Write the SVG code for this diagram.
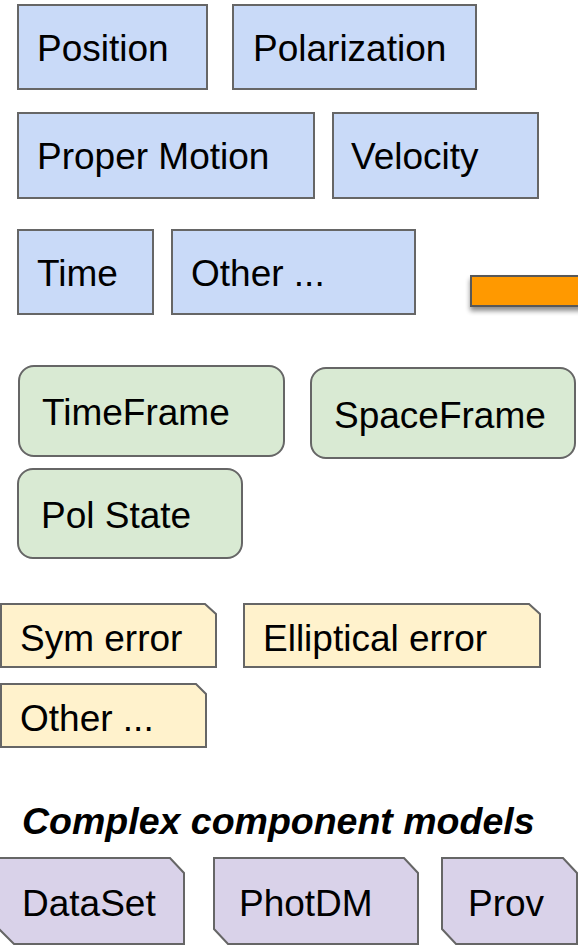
<svg xmlns="http://www.w3.org/2000/svg" width="578" height="952" viewBox="0 0 578 952">
<defs>
<style>
.t{font-family:"Liberation Sans",Arial,sans-serif;font-size:37px;fill:#000}
.b{fill:#c9daf8;stroke:#666;stroke-width:2}
.g{fill:#d9ead3;stroke:#666;stroke-width:2}
.y{fill:#fff2cc;stroke:#666;stroke-width:2}
.p{fill:#d9d2e9;stroke:#666;stroke-width:2}
.h{font-family:"Liberation Sans",Arial,sans-serif;font-size:37.5px;font-weight:bold;font-style:italic;fill:#000}
</style>
<filter id="sh" x="-20%" y="-50%" width="140%" height="220%">
<feGaussianBlur in="SourceAlpha" stdDeviation="2.5"/>
<feOffset dx="0" dy="4" result="o"/>
<feComponentTransfer><feFuncA type="linear" slope="0.45"/></feComponentTransfer>
<feMerge><feMergeNode/><feMergeNode in="SourceGraphic"/></feMerge>
</filter>
</defs>
<rect width="578" height="952" fill="#fff"/>
<g id="connectors">
<rect x="471" y="276" width="120" height="30" fill="#ff9900" stroke="#595959" stroke-width="2" filter="url(#sh)"/>
</g>
<g id="position"><rect class="b" x="18" y="5" width="189" height="84"/><text class="t" x="37" y="61">Position</text></g>
<g id="polarization"><rect class="b" x="233" y="5" width="243" height="84"/><text class="t" x="253" y="61">Polarization</text></g>
<g id="proper-motion"><rect class="b" x="18" y="113" width="296" height="85"/><text class="t" x="37" y="169">Proper Motion</text></g>
<g id="velocity"><rect class="b" x="333" y="113" width="205" height="85"/><text class="t" x="351" y="169">Velocity</text></g>
<g id="time"><rect class="b" x="18" y="230" width="135" height="84"/><text class="t" x="37" y="286">Time</text></g>
<g id="other1"><rect class="b" x="172" y="230" width="243" height="84"/><text class="t" x="191" y="286">Other ...</text></g>
<g id="timeframe"><rect class="g" x="19" y="366" width="265" height="90" rx="15"/><text class="t" x="42" y="425">TimeFrame</text></g>
<g id="spaceframe"><rect class="g" x="311" y="368" width="264" height="90" rx="15"/><text class="t" x="334" y="428">SpaceFrame</text></g>
<g id="polstate"><rect class="g" x="18" y="469" width="224" height="89" rx="15"/><text class="t" x="41" y="528">Pol State</text></g>
<g id="symerror"><path class="y" d="M1,604 H205 L216,614 V667 H1 Z"/><text class="t" x="20" y="651">Sym error</text></g>
<g id="ellerror"><path class="y" d="M244,604 H529 L540,614 V667 H244 Z"/><text class="t" x="263" y="651">Elliptical error</text></g>
<g id="other2"><path class="y" d="M1,684 H196 L206,694 V747 H1 Z"/><text class="t" x="20" y="731">Other ...</text></g>
<g id="title"><text class="h" x="22" y="834">Complex component models</text></g>
<g id="dataset"><path class="p" d="M-1,858 H170 L184,873 V944 H14 L-1,929 Z"/><text class="t" x="22" y="916">DataSet</text></g>
<g id="photdm"><path class="p" d="M214,858 H404 L418,873 V944 H228 L214,929 Z"/><text class="t" x="239" y="916">PhotDM</text></g>
<g id="prov"><path class="p" d="M442,858 H563 L577,873 V944 H456 L442,929 Z"/><text class="t" x="468" y="916">Prov</text></g>
</svg>
